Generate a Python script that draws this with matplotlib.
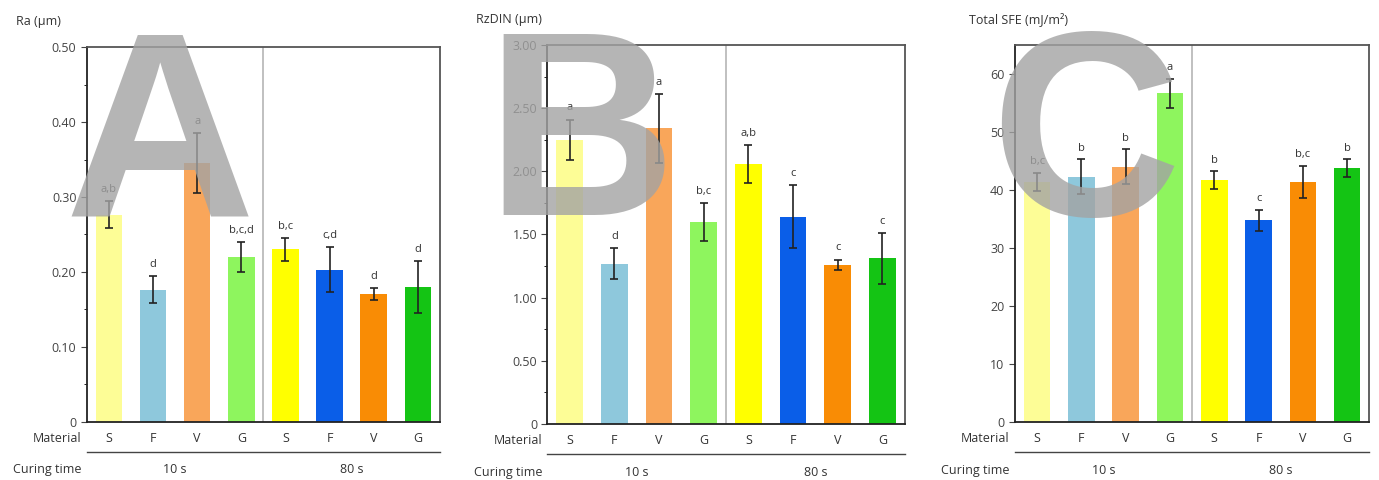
import matplotlib
matplotlib.use("Agg")
import matplotlib.pyplot as plt
import matplotlib.transforms as mtransforms
from matplotlib.ticker import MultipleLocator, FuncFormatter

plt.rcParams["font.family"] = ["Open Sans", "DejaVu Sans"]

materials = ["S", "F", "V", "G", "S", "F", "V", "G"]
curing_times = ["10 s", "80 s"]
bar_colors = ["#fdfd96", "#8ec8dc", "#f9a65a", "#8ef55e",
              "#ffff00", "#0a5ee8", "#f98c05", "#14c414"]

ra_mean = [0.276, 0.176, 0.345, 0.220, 0.230, 0.203, 0.170, 0.180]
ra_err = [0.018, 0.018, 0.040, 0.020, 0.015, 0.030, 0.008, 0.035]
ra_letters = ["a,b", "d", "a", "b,c,d", "b,c", "c,d", "d", "d"]

rz_mean = [2.25, 1.27, 2.34, 1.60, 2.06, 1.64, 1.26, 1.31]
rz_err = [0.16, 0.12, 0.27, 0.15, 0.15, 0.25, 0.04, 0.20]
rz_letters = ["a", "d", "a", "b,c", "a,b", "c", "c", "c"]

sfe_mean = [41.4, 42.3, 44.0, 56.7, 41.7, 34.8, 41.4, 43.8]
sfe_err = [1.5, 3.0, 3.0, 2.5, 1.5, 1.8, 2.8, 1.5]
sfe_letters = ["b,c", "b", "b", "a", "b", "c", "b,c", "b"]

panels = [
    dict(pos=[0.063, 0.121, 0.256, 0.781], mean=ra_mean, err=ra_err,
         letters=ra_letters, ylim=0.50, major=0.10, minor=0.05, dec=2,
         title="Ra (µm)", off=0.008, tag="A", tagx=0.116),
    dict(pos=[0.397, 0.117, 0.259, 0.789], mean=rz_mean, err=rz_err,
         letters=rz_letters, ylim=3.00, major=0.50, minor=0.25, dec=2,
         title="RzDIN (µm)", off=0.05, tag="B", tagx=0.421),
    dict(pos=[0.736, 0.121, 0.257, 0.785], mean=sfe_mean, err=sfe_err,
         letters=sfe_letters, ylim=65, major=10, minor=10, dec=0,
         title="Total SFE (mJ/m²)", off=1.0, tag="C", tagx=0.787),
]

fig = plt.figure(figsize=(13.79, 4.80), dpi=100)
x = list(range(len(materials)))

for p in panels:
    ax = fig.add_axes(p["pos"])
    ax.bar(x, p["mean"], width=0.6, color=bar_colors, zorder=2)
    ax.errorbar(x, p["mean"], yerr=p["err"], fmt="none", ecolor="#222222",
                elinewidth=1.2, capsize=3, capthick=1.2, zorder=3)
    for xi, m, e, lab in zip(x, p["mean"], p["err"], p["letters"]):
        ax.text(xi, m + e + p["off"], lab, ha="center", va="bottom",
                fontsize=8, color="#333333", zorder=4)
    ax.axvline(3.5, color="#b5b5b5", lw=1.2, zorder=1)
    ax.set_xlim(-0.5, 7.5)
    ax.set_ylim(0, p["ylim"])
    ax.yaxis.set_major_locator(MultipleLocator(p["major"]))
    ax.yaxis.set_minor_locator(MultipleLocator(p["minor"]))
    dec = p["dec"]
    ax.yaxis.set_major_formatter(FuncFormatter(
        lambda v, pos, d=dec: "0" if abs(v) < 1e-9 else f"{v:.{d}f}"))
    ax.tick_params(axis="y", labelsize=9, length=4, colors="#444444")
    ax.tick_params(axis="y", which="minor", length=2)
    ax.set_xticks([])
    for s in ax.spines.values():
        s.set_color("#555555")
        s.set_linewidth(1.3)
    ax.spines["left"].set_color("#222222")
    ax.spines["bottom"].set_color("#222222")

    ax.text(-0.2 if dec == 2 else -0.13, 1.05, p["title"], transform=ax.transAxes,
            ha="left", va="bottom", fontsize=9, color="#333333")

    trans = mtransforms.blended_transform_factory(ax.transData, ax.transAxes)
    ax.text(-0.62, -0.043, "Material", transform=trans, ha="right", va="center",
            fontsize=9, color="#333333", clip_on=False)
    for xi, mlab in zip(x, materials):
        ax.text(xi, -0.043, mlab, transform=trans, ha="center", va="center",
                fontsize=9, color="#333333", clip_on=False)
    ax.plot([-0.5, 7.5], [-0.08, -0.08], transform=trans, color="#444444",
            lw=1.0, clip_on=False)
    ax.text(-0.62, -0.128, "Curing time", transform=trans, ha="right",
            va="center", fontsize=9, color="#333333", clip_on=False)
    for xc, ct in zip([1.5, 5.5], curing_times):
        ax.text(xc, -0.128, ct, transform=trans, ha="center", va="center",
                fontsize=9, color="#333333", clip_on=False)

    # big grey panel letter drawn over the plot
    fig.text(p["tagx"], 0.552, p["tag"], ha="center", va="baseline",
             fontsize=190, fontweight="bold", family="Liberation Sans",
             color="#a3a3a3", alpha=0.8, zorder=10)

fig.savefig("out.png", dpi=100)
